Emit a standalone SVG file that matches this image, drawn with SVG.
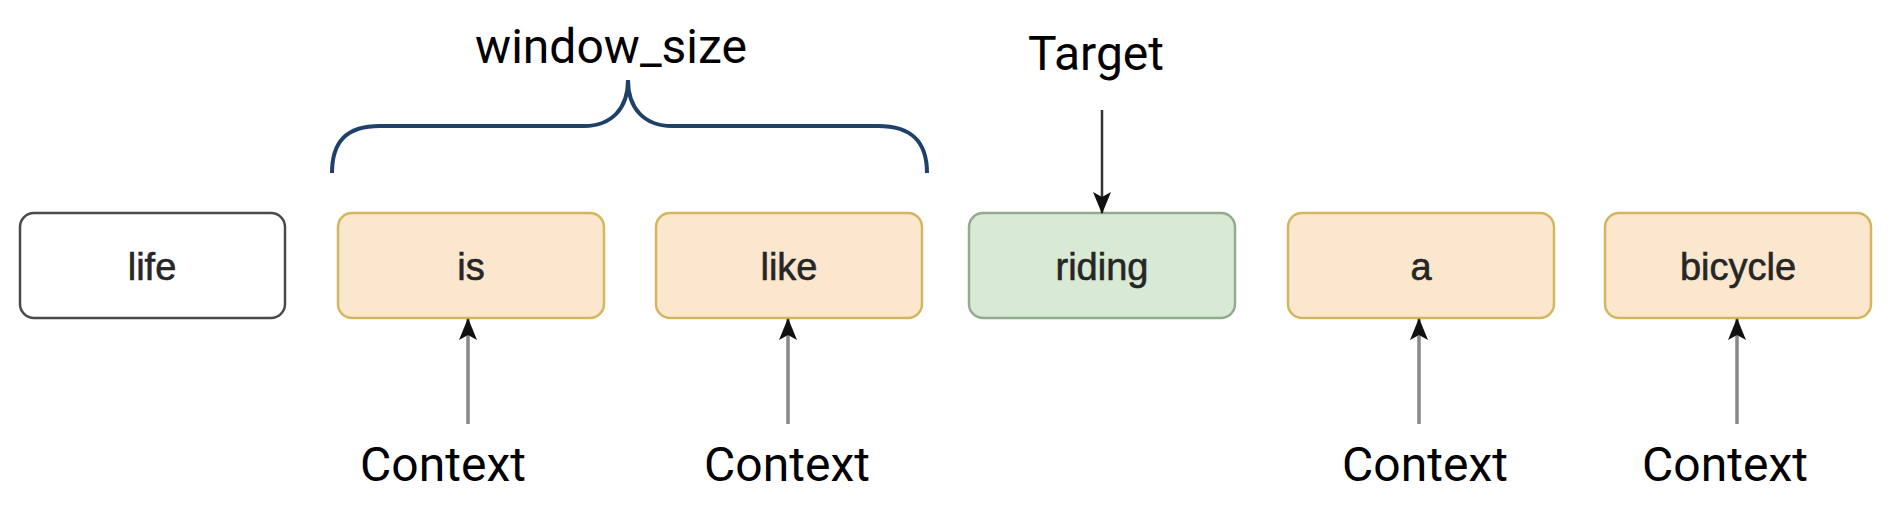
<svg xmlns="http://www.w3.org/2000/svg" width="1902" height="530" viewBox="0 0 1902 530">
<style>
.box{stroke-width:2.5}
.word{stroke:#d3b65f;fill:#fbe7ce}
.tgt{stroke:#94ab8e;fill:#d8e9d4}
.plain{stroke:#4a4a4a;fill:#ffffff}
.bt{font-family:"Liberation Sans",Arial,sans-serif;font-size:38px;fill:#262626;stroke:#262626;stroke-width:0.6;text-anchor:middle}
.lbl{font-family:Roboto,"Liberation Sans",sans-serif;font-size:48px;fill:#000;text-anchor:middle}
.ctx{stroke:#888;stroke-width:3.5;fill:none}
.tar{stroke:#333;stroke-width:2.5;fill:none}
</style>
<defs>
<marker id="ah" viewBox="0 0 22 20" refX="21" refY="10" markerWidth="22" markerHeight="20" markerUnits="userSpaceOnUse" orient="auto">
<path d="M0,1 L22,10 L0,19 L5,10 Z" fill="#111"/>
</marker>
</defs>
<rect width="1902" height="530" fill="#fff"/>
<g id="node-life"><rect class="box plain" x="20" y="213" width="265" height="105" rx="14"/><text class="bt" x="152" y="280">life</text></g>
<g id="node-is"><rect class="box word" x="338" y="213" width="266" height="105" rx="14"/><text class="bt" x="471" y="280">is</text></g>
<g id="node-like"><rect class="box word" x="656" y="213" width="266" height="105" rx="14"/><text class="bt" x="789" y="280">like</text></g>
<g id="node-riding"><rect class="box tgt" x="969" y="213" width="266" height="105" rx="14"/><text class="bt" x="1102" y="280">riding</text></g>
<g id="node-a"><rect class="box word" x="1288" y="213" width="266" height="105" rx="14"/><text class="bt" x="1421" y="280">a</text></g>
<g id="node-bicycle"><rect class="box word" x="1605" y="213" width="266" height="105" rx="14"/><text class="bt" x="1738" y="280">bicycle</text></g>
<g id="bracket">
<path d="M332,173 C332,142 346,126 380,126 L584,126 C612,126 628,108 628,80 C628,108 644,126 672,126 L878,126 C912,126 927,142 927,173" fill="none" stroke="#1f4068" stroke-width="4"/>
<text class="lbl" x="611" y="63" font-size="49">window_size</text>
</g>
<g id="labels">
<text class="lbl" x="1096" y="70">Target</text>
<text class="lbl" x="443" y="481">Context</text>
<text class="lbl" x="787" y="481">Context</text>
<text class="lbl" x="1425" y="481">Context</text>
<text class="lbl" x="1725" y="481">Context</text>
</g>
<g id="connectors">
<line class="tar" x1="1102" y1="110" x2="1102" y2="213" marker-end="url(#ah)"/>
<line class="ctx" x1="468" y1="424" x2="468" y2="319" marker-end="url(#ah)"/>
<line class="ctx" x1="788" y1="424" x2="788" y2="319" marker-end="url(#ah)"/>
<line class="ctx" x1="1419" y1="424" x2="1419" y2="319" marker-end="url(#ah)"/>
<line class="ctx" x1="1737" y1="424" x2="1737" y2="319" marker-end="url(#ah)"/>
</g>
</svg>
